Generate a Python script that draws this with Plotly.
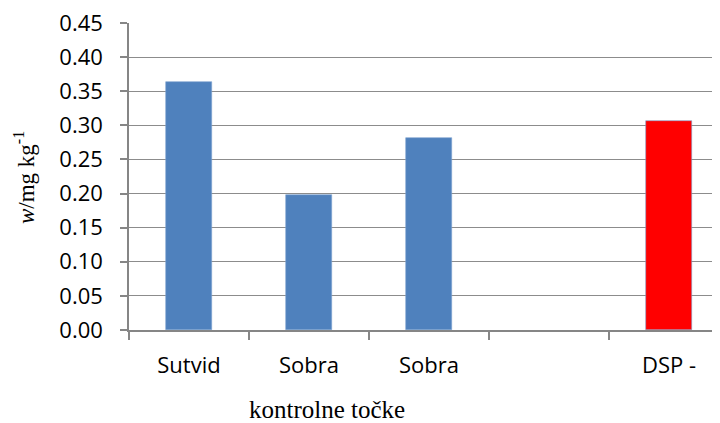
import plotly.graph_objects as go

# data
categories = ["Sutvid", "Sobra", "Sobra", "", "DSP -"]
values = [0.363, 0.198, 0.281, None, 0.306]
bar_colors = ["#4F81BD", "#4F81BD", "#4F81BD", "#4F81BD", "#FF0000"]
y_ticks = [0.0, 0.05, 0.10, 0.15, 0.20, 0.25, 0.30, 0.35, 0.40, 0.45]

_axis_gray = "#868686"
_tick_font = dict(family="Open Sans", size=22, color="black")

# the page body has an 8px margin, so the figure is shifted by 8px
_W, _H = 712, 415
_l, _t, _b = 121, 15, 93
_plot_w = _W - _l
_plot_h = _H - _t - _b

x_pos = list(range(len(categories)))

fig = go.Figure()
fig.add_trace(go.Bar(x=x_pos,
                     y=values,
                     width=0.39,
                     marker=dict(color=bar_colors,
                                 line=dict(color="#7da2d0", width=0.6)),
                     showlegend=False))

fig.update_layout(
    width=_W,
    height=_H,
    margin=dict(l=_l, r=0, t=_t, b=_b, autoexpand=False),
    paper_bgcolor="white",
    plot_bgcolor="white",
    bargap=0,
    xaxis=dict(
        range=[-0.5, -0.5 + _plot_w / 120],
        tickmode="array",
        tickvals=x_pos,
        ticktext=categories,
        ticks="",
        showgrid=False,
        zeroline=False,
        showline=True,
        linecolor=_axis_gray,
        linewidth=1.5,
        tickfont=_tick_font,
        ticklabelstandoff=15,
        minor=dict(tick0=-0.5, dtick=1, ticks="outside", ticklen=8,
                   tickwidth=1.5, tickcolor=_axis_gray, showgrid=False),
    ),
    yaxis=dict(
        range=[0, 0.45],
        tickmode="array",
        tickvals=y_ticks,
        tickformat=".2f",
        ticks="outside",
        ticklen=7,
        tickwidth=1.5,
        tickcolor=_axis_gray,
        showgrid=True,
        gridcolor="#8c8c8c",
        gridwidth=1.3,
        zeroline=False,
        showline=True,
        linecolor=_axis_gray,
        linewidth=1.5,
        tickfont=_tick_font,
        ticklabelstandoff=13,
        ticklabeloverflow="allow",
    ),
    annotations=[
        dict(xref="paper", yref="paper", x=-105 / _plot_w, y=(330 - 178) / _plot_h,
             xanchor="center", yanchor="middle", textangle=-90,
             text="<i>w</i>/mg kg<sup>-1</sup>",
             font=dict(family="Liberation Serif", size=23, color="black"),
             showarrow=False),
        dict(xref="paper", yref="paper", x=(327 - 129) / _plot_w, y=-79 / _plot_h,
             xanchor="center", yanchor="middle",
             text="kontrolne točke",
             font=dict(family="Liberation Serif", size=25, color="black"),
             showarrow=False),
    ],
)

fig.write_html("out.html")
